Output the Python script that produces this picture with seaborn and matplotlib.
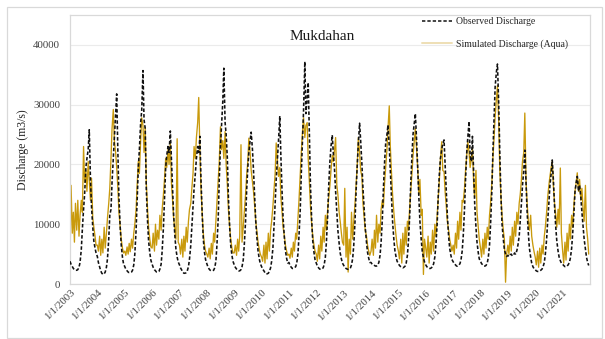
import pandas as pd
import matplotlib
matplotlib.use("Agg")
import matplotlib.pyplot as plt
from matplotlib.lines import Line2D
from matplotlib.patches import Rectangle
import seaborn as sns

# Semi-monthly discharge at Mukdahan (m3/s), one row per year 2003-2021
observed = [
    3800, 3300, 2900, 2600, 2400, 2300, 2300, 2400, 2800, 3600, 5800, 9200, 12500, 15000, 19500, 21000, 22500, 25800, 17500, 13000, 9500, 7200, 6000, 5200,
    4600, 3600, 2800, 2200, 1800, 1600, 1700, 2000, 2800, 4200, 7500, 11500, 12500, 17000, 21000, 24500, 28500, 31800, 22000, 14500, 9500, 6500, 4500, 3400,
    2900, 2500, 2200, 2000, 1900, 1900, 2000, 2300, 3200, 5000, 9000, 14000, 19500, 22500, 27000, 29000, 35700, 27500, 26000, 16000, 10500, 7200, 5200, 4000,
    3300, 2800, 2400, 2200, 2000, 2000, 2100, 2500, 3300, 5500, 9500, 14000, 19500, 21500, 23000, 22000, 25600, 21000, 16000, 11500, 8000, 5800, 4500, 3700,
    3200, 2700, 2300, 2000, 1800, 1800, 1900, 2200, 2900, 4200, 6500, 9500, 13000, 16000, 18500, 21000, 23000, 22000, 24700, 17500, 11500, 7500, 5300, 4100,
    3400, 2900, 2500, 2300, 2200, 2200, 2300, 2700, 3800, 6500, 11000, 17500, 23000, 26500, 30500, 36100, 27000, 25000, 21000, 14500, 9500, 6500, 4800, 3800,
    3200, 2800, 2500, 2300, 2200, 2200, 2400, 2900, 4000, 6500, 10500, 15500, 19500, 22000, 24000, 25400, 22500, 19000, 14500, 10500, 7500, 5500, 4200, 3400,
    2900, 2500, 2200, 1900, 1700, 1700, 1800, 2100, 2700, 3800, 6000, 9500, 13500, 17500, 21000, 24000, 28100, 21500, 15500, 11000, 7800, 5600, 4300, 3500,
    3600, 3100, 2800, 2600, 2600, 2700, 2900, 3500, 5000, 8000, 12500, 18500, 24000, 29000, 37200, 28500, 31000, 33700, 25000, 16500, 10500, 7200, 5300, 4100,
    3500, 3000, 2700, 2500, 2450, 2500, 2700, 3200, 4500, 7000, 11500, 16500, 20500, 23000, 24900, 22000, 19000, 15500, 12000, 9000, 6800, 5200, 4200, 3500,
    3100, 2800, 2600, 2500, 2450, 2500, 2700, 3200, 4300, 6500, 10500, 15500, 20000, 23500, 26900, 24000, 20000, 16000, 12500, 9500, 7000, 5300, 4300, 3600,
    3600, 3300, 3200, 3100, 3000, 3000, 3200, 3600, 4800, 7000, 11000, 16000, 20500, 23500, 25000, 26600, 23000, 19000, 14500, 10500, 7500, 5600, 4500, 3800,
    3400, 3100, 2900, 2800, 2700, 2800, 3000, 3500, 4800, 7200, 11500, 17000, 21500, 25000, 27000, 28500, 24000, 19500, 14500, 10500, 7500, 5500, 4400, 3700,
    3200, 2900, 2700, 2600, 2600, 2700, 2900, 3400, 4500, 6500, 10000, 14500, 18500, 21000, 22500, 23500, 24100, 20000, 15500, 11500, 8000, 6000, 4800, 4100,
    3700, 3400, 3200, 3000, 3000, 3100, 3400, 4000, 5500, 8000, 12500, 17500, 22000, 24500, 27200, 21500, 20500, 24700, 19000, 13500, 9500, 7000, 5300, 4200,
    3800, 3400, 3200, 3000, 3000, 3100, 3500, 4500, 6500, 10000, 15500, 22000, 28000, 33000, 35500, 36800, 30000, 22000, 14500, 10000, 7500, 5800, 5000, 4600,
    4800, 4600, 4900, 5000, 4700, 4800, 5200, 5000, 5600, 6500, 8000, 10500, 13500, 16500, 19000, 22400, 16500, 12000, 8500, 6000, 4500, 3500, 2900, 2600,
    2400, 2200, 2100, 2100, 2200, 2300, 2500, 2900, 3600, 5000, 7500, 10500, 13500, 16500, 18500, 20750, 17000, 13000, 9500, 7200, 5500, 4500, 3900, 3500,
    3300, 3100, 2900, 2900, 3000, 3200, 3600, 4400, 6000, 8500, 12000, 15500, 17000, 18000, 15500, 16500, 14500, 12000, 9500, 7500, 5800, 4500, 3600, 3100,
]

simulated = [
    3200, 16500, 8500, 12000, 7000, 13500, 9000, 14000, 8000, 11500, 14000, 12000, 23000, 17000, 19000, 15500, 20500, 17500, 14000, 17700, 11000, 9500, 8000, 6500,
    6500, 5500, 8000, 4800, 7500, 5200, 9500, 6000, 8500, 11000, 13500, 16000, 21000, 26000, 29200, 24000, 22000, 19500, 16000, 12000, 9500, 7500, 6000, 5200,
    5500, 4800, 6200, 5000, 6800, 5400, 7500, 6000, 8500, 10000, 12500, 16500, 20500, 18500, 24000, 27800, 26500, 22000, 26200, 17000, 12500, 9500, 7500, 6200,
    6000, 8500, 5500, 10000, 6500, 9000, 7500, 11500, 9000, 12500, 15000, 17500, 21000, 19500, 22500, 20000, 23500, 17000, 14000, 11000, 9000, 7500, 24300, 7000,
    6500, 5000, 7500, 4500, 8000, 5500, 9500, 7000, 10500, 12500, 13500, 16000, 18500, 23000, 21000, 24500, 27000, 31200, 22000, 16000, 11500, 8500, 6500, 5500,
    5000, 4500, 6000, 4200, 6800, 5000, 8500, 7000, 10500, 13500, 17500, 20500, 26300, 22500, 24000, 21000, 25500, 20000, 16500, 12500, 9500, 7500, 6000, 5200,
    5200, 6500, 4800, 7500, 5500, 8000, 23300, 7000, 9500, 12000, 15000, 18000, 20500, 24400, 22000, 19000, 17000, 15500, 13000, 10500, 8500, 7000, 5800, 5000,
    4500, 3800, 6500, 3500, 7000, 4200, 8500, 5500, 9000, 10500, 13000, 15500, 18500, 23600, 20500, 18000, 19500, 14500, 12000, 9500, 8000, 6500, 5500, 4800,
    5000, 4300, 6000, 4500, 7000, 5500, 8500, 7500, 11000, 14000, 18500, 22000, 25500, 27800, 24500, 26500, 27000, 21000, 17000, 13000, 10000, 8000, 6500, 5500,
    5000, 3800, 6500, 4200, 8000, 5500, 9500, 7000, 11500, 9000, 12500, 14500, 16500, 19000, 21500, 20500, 22500, 24500, 16500, 15000, 12000, 10500, 8500, 7000,
    6500, 16000, 4500, 9500, 2000, 7500, 5000, 12000, 7500, 10500, 13500, 16500, 20000, 24500, 22000, 19000, 18000, 13500, 11000, 9000, 8000, 6500, 5500, 4800,
    5500, 7500, 4800, 9000, 6000, 11500, 7000, 10000, 8500, 12500, 14000, 13000, 17000, 19400, 22500, 26000, 29800, 23000, 18500, 15000, 12000, 10000, 8000, 6500,
    5500, 4200, 7500, 3500, 8500, 5000, 9500, 6500, 10500, 9000, 13000, 15500, 18500, 21500, 24000, 26000, 22500, 19500, 15000, 17500, 11500, 12500, 1600, 7500,
    6000, 4500, 8000, 3500, 7000, 5000, 9000, 5500, 10000, 8000, 11500, 14500, 17500, 21000, 23800, 19000, 18800, 15500, 13000, 10500, 9000, 7500, 6500, 5500,
    6500, 5000, 8500, 6000, 10500, 7500, 12000, 9000, 14000, 13700, 16000, 19000, 21500, 23800, 22000, 19500, 21000, 22700, 17000, 14500, 19000, 12000, 9500, 7500,
    6000, 4500, 7500, 5000, 8500, 6000, 9500, 7500, 11500, 13500, 17000, 21000, 24500, 28000, 31000, 33200, 27000, 19000, 14500, 11500, 9000, 7500, 300, 5000,
    6500, 5000, 8000, 5500, 9500, 6500, 10500, 8000, 12000, 10000, 13500, 15000, 17500, 20500, 22000, 28600, 17000, 13500, 10500, 9000, 11500, 8000, 6500, 5500,
    4500, 3200, 5500, 2800, 6000, 3500, 6500, 5000, 8000, 9500, 12000, 14500, 16500, 18000, 19500, 20500, 16000, 13500, 11500, 9500, 12500, 10000, 19400, 8500,
    5500, 3500, 7000, 4000, 8500, 5500, 10000, 7500, 11500, 9500, 13500, 15500, 17000, 18600, 15500, 17500, 14000, 16000, 12500, 10500, 16500, 9500, 7500, 5000,
]

tick_years = list(range(2003, 2022))
y_ticks = [0, 10000, 20000, 30000, 40000]
title = "Mukdahan"
obs_label = "Observed Discharge"
sim_label = "Simulated Discharge (Aqua)"

dates = pd.date_range("2003-01-01", periods=len(observed), freq="SMS")
df = pd.DataFrame({"date": dates, "observed": observed, "simulated": simulated})

sns.set_theme(style="white")
plt.rcParams["font.family"] = ["Liberation Serif", "DejaVu Serif"]

W, H = 605, 339
fig = plt.figure(figsize=(W / 100, H / 100), dpi=100)
ax = fig.add_axes([70 / W, 1 - 284 / H, 520 / W, 269 / H])

sim_color = "#C99A0C"
obs_color = "#111111"
grey = "#D9D9D9"

sns.lineplot(data=df, x="date", y="simulated", ax=ax, color=sim_color,
             linewidth=0.95, zorder=2)
sns.lineplot(data=df, x="date", y="observed", ax=ax, color=obs_color,
             linewidth=1.15, zorder=3)
ax.lines[-1].set_linestyle((0, (2.2, 1.3)))

ax.set_ylim(0, 45000)
ax.set_xlim(pd.Timestamp("2003-01-01"), pd.Timestamp("2022-01-01"))
ax.set_yticks(y_ticks)
ax.set_yticklabels([str(v) for v in y_ticks])
tick_dates = [pd.Timestamp(f"{y}-01-01") for y in tick_years]
ax.set_xticks(tick_dates)
ax.set_xticklabels([f"{d.month}/{d.day}/{d.year}" for d in tick_dates],
                   rotation=45, ha="right", va="top", rotation_mode="anchor")
ax.tick_params(axis="both", length=0, labelsize=7.8, colors="#404040")
ax.tick_params(axis="x", pad=3)
ax.tick_params(axis="y", pad=7)

ax.yaxis.grid(True, color="#EBEBEB", linewidth=0.8)
ax.xaxis.grid(False)
for s in ax.spines.values():
    s.set_color(grey)
    s.set_linewidth(0.9)

ax.set_xlabel("")
ax.set_ylabel("Discharge (m3/s)", fontsize=8.5, color="#262626")
ax.yaxis.set_label_coords((29 - 70) / 520, 0.5)

fig.text(322 / W, 1 - 37 / H, title, ha="center", va="center",
         fontsize=11, color="#1a1a1a")

handles = [
    Line2D([], [], color=obs_color, linewidth=1.1, linestyle=(0, (2.2, 1.3))),
    Line2D([], [], color="#EEDFB4", linewidth=1.4),
]
ax.legend(handles, [obs_label, sim_label], loc="upper left",
          bbox_to_anchor=(422 / W, 1 - 17 / H), bbox_transform=fig.transFigure,
          frameon=False, fontsize=7, handlelength=3.1, handletextpad=0.35,
          labelspacing=1.35, borderpad=0, borderaxespad=0)

fig.patches.append(Rectangle((7 / W, 1 / H), 595 / W, 331 / H,
                             transform=fig.transFigure, fill=False,
                             edgecolor=grey, linewidth=0.9))

fig.savefig("out.png", dpi=100)
